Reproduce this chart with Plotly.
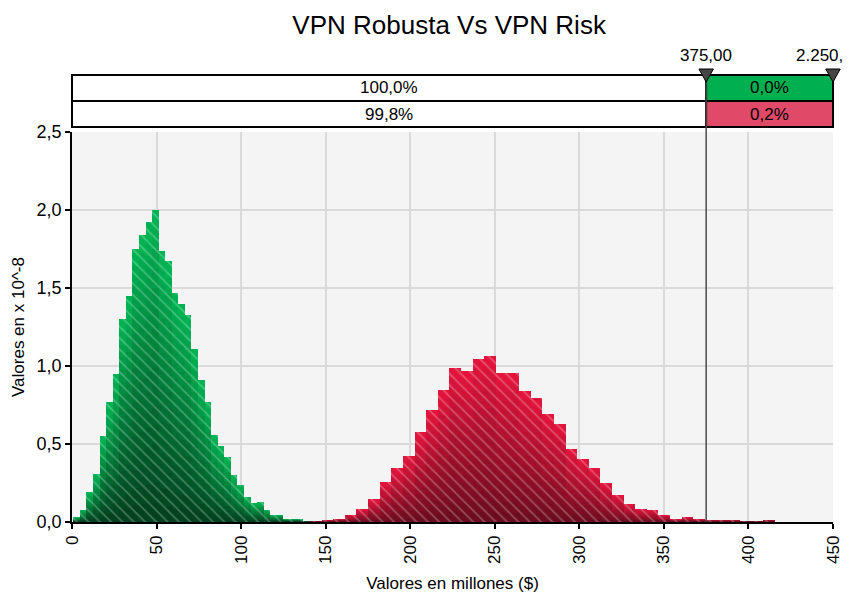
import plotly.graph_objects as go

# histogram of the robust VPN (green), bins of equal width
green_start = 0.8
green_width = 3.88
green_vals = [0.03, 0.077, 0.19, 0.31, 0.55, 0.77, 0.95, 1.30, 1.45, 1.75,
              1.84, 1.92, 2.0, 1.735, 1.67, 1.47, 1.40, 1.325, 1.11, 0.91,
              0.77, 0.56, 0.49, 0.415, 0.30, 0.237, 0.162, 0.12, 0.126, 0.077,
              0.047, 0.047, 0.019, 0.019, 0.019, 0.005]

# histogram of the risk VPN (red)
red_start = 140.7
red_width = 6.87
red_vals = [0.005, 0.01, 0.02, 0.045, 0.083, 0.147, 0.256, 0.346, 0.423, 0.577,
            0.718, 0.846, 0.987, 0.97, 1.045, 1.064, 0.953, 0.953, 0.84, 0.795,
            0.692, 0.628, 0.468, 0.404, 0.346, 0.25, 0.173, 0.115, 0.083, 0.077,
            0.045, 0.019, 0.032, 0.019, 0.013, 0.013, 0.013, 0.006, 0.004, 0.013]

x_ticks = [0, 50, 100, 150, 200, 250, 300, 350, 400, 450]
y_ticks = [0, 0.5, 1.0, 1.5, 2.0, 2.5]

cut_left = 375
cut_right = 450
cut_labels = ["375,00", "2.250,"]
green_row = ["100,0%", "0,0%"]
red_row = ["99,8%", "0,2%"]

FONT = "Liberation Sans"
N_SHADES = 16


def lerp(c1, c2, t):
    return "rgb(%d,%d,%d)" % tuple(round(a + (b - a) * t) for a, b in zip(c1, c2))


def add_histogram(fig, start, width, vals, top_col, bot_col):
    xs = [start + width * (i + 0.5) for i in range(len(vals))]
    # stacked shades to fake a vertical gradient
    for i in range(N_SHADES):
        frac = (N_SHADES - i) / N_SHADES
        fig.add_trace(go.Bar(
            x=xs, y=[v * frac for v in vals], width=width,
            marker=dict(color=lerp(top_col, bot_col, i / (N_SHADES - 1)), line_width=0),
            hoverinfo="skip"))
    # white diagonal hatching on top
    fig.add_trace(go.Bar(
        x=xs, y=vals, width=width,
        marker=dict(color="rgba(0,0,0,0)", line_width=0,
                    pattern=dict(shape="\\", fgcolor="rgba(255,255,255,0.55)",
                                 bgcolor="rgba(0,0,0,0)", size=8, solidity=0.2)),
        hoverinfo="skip"))


fig = go.Figure()
add_histogram(fig, green_start, green_width, green_vals, (0, 178, 82), (0, 66, 30))
add_histogram(fig, red_start, red_width, red_vals, (226, 20, 60), (108, 12, 30))

# paper coordinates of the band above the plot
row_top, row_mid, row_bot = 1.1462, 1.0795, 1.0128
xc = cut_left / cut_right

shapes = [
    dict(type="rect", xref="paper", yref="paper", x0=0, x1=xc, y0=row_mid, y1=row_top,
         fillcolor="white", line=dict(color="black", width=2)),
    dict(type="rect", xref="paper", yref="paper", x0=xc, x1=1, y0=row_mid, y1=row_top,
         fillcolor="#00b050", line=dict(color="black", width=2)),
    dict(type="rect", xref="paper", yref="paper", x0=0, x1=xc, y0=row_bot, y1=row_mid,
         fillcolor="white", line=dict(color="black", width=2)),
    dict(type="rect", xref="paper", yref="paper", x0=xc, x1=1, y0=row_bot, y1=row_mid,
         fillcolor="#e04a68", line=dict(color="black", width=2)),
    dict(type="line", xref="paper", yref="paper", x0=xc, x1=xc, y0=0, y1=row_top,
         line=dict(color="#4a4a4a", width=1.5)),
]
for xp in [xc, 1.0]:
    hw = 0.0095
    shapes.append(dict(type="path", xref="paper", yref="paper",
                       path=f"M {xp-hw},1.1615 L {xp+hw},1.1615 L {xp},1.128 Z",
                       fillcolor="#454545", line=dict(color="black", width=1)))

annotations = [
    dict(text=green_row[0], x=xc / 2, y=(row_top + row_mid) / 2),
    dict(text=green_row[1], x=(xc + 1) / 2, y=(row_top + row_mid) / 2),
    dict(text=red_row[0], x=xc / 2, y=(row_mid + row_bot) / 2),
    dict(text=red_row[1], x=(xc + 1) / 2, y=(row_mid + row_bot) / 2),
    dict(text=cut_labels[0], x=xc, y=1.195),
    dict(text=cut_labels[1], x=1.0158, y=1.195, xanchor="right"),
]
for a in annotations:
    a.update(xref="paper", yref="paper", showarrow=False, yanchor="middle",
             font=dict(family=FONT, size=17, color="black"))
    a.setdefault("xanchor", "center")

fig.update_layout(
    width=849, height=594,
    margin=dict(l=72, r=16, t=132, b=72),
    paper_bgcolor="white", plot_bgcolor="#f4f4f4",
    barmode="overlay", bargap=0, showlegend=False,
    separators=",.",
    font=dict(family=FONT, size=17, color="black"),
    title=dict(text="VPN Robusta Vs VPN Risk", x=0.529, xanchor="center",
               y=0.958, yanchor="middle", font=dict(family=FONT, size=26, color="black")),
    shapes=shapes, annotations=annotations,
)
fig.update_xaxes(
    range=[0, 450], tickvals=x_ticks, tickangle=-90, automargin=False,
    ticks="outside", ticklen=5, tickcolor="black", tickwidth=1.5,
    showline=True, linecolor="black", linewidth=1.5,
    showgrid=True, gridcolor="#dadada", gridwidth=1.5, zeroline=False,
    tickfont=dict(size=17),
    title=dict(text="Valores en millones ($)", font=dict(size=17), standoff=14),
)
fig.update_yaxes(
    range=[0, 2.5], tickvals=y_ticks, tickformat=".1f", automargin=False,
    ticks="outside", ticklen=5, tickcolor="black", tickwidth=1.5,
    showline=True, linecolor="black", linewidth=1.5,
    showgrid=True, gridcolor="#dadada", gridwidth=1.5, zeroline=False,
    tickfont=dict(size=18),
    title=dict(text="Valores en x 10^-8", font=dict(size=17), standoff=8),
)

fig.write_html("out.html", config={"displayModeBar": False},
               post_script="document.body.style.margin='0';")
